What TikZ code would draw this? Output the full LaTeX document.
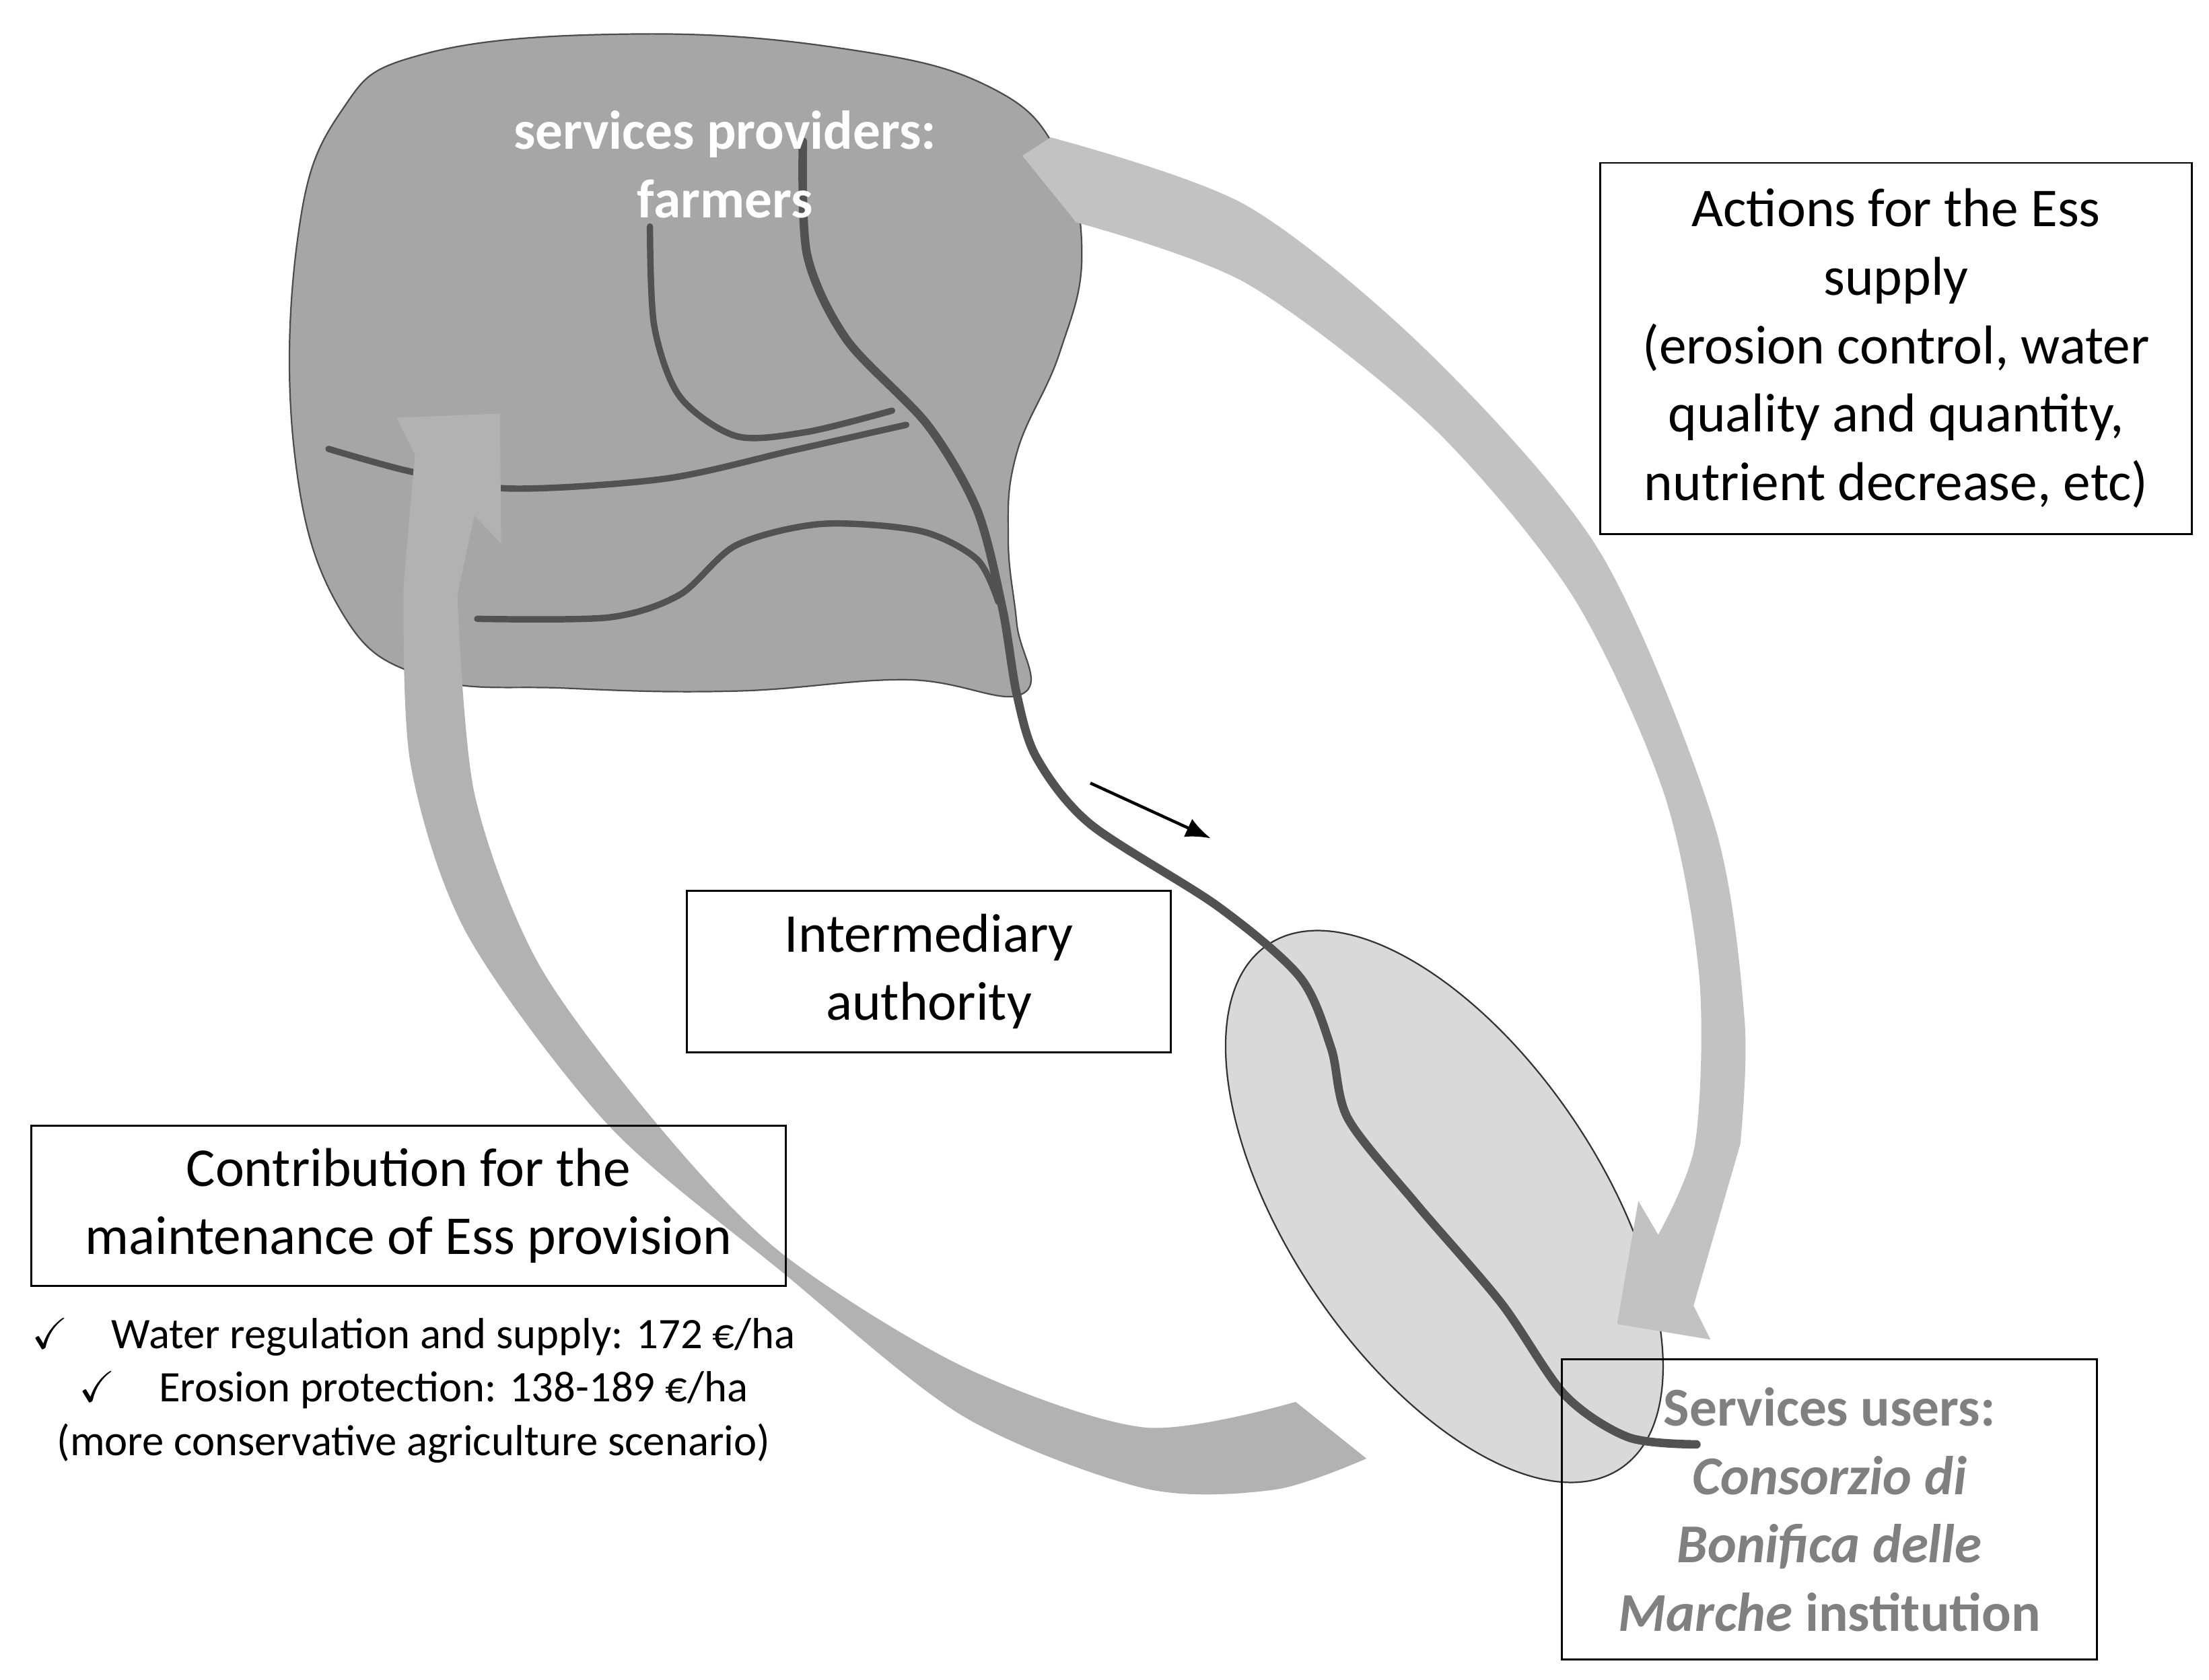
\documentclass[tikz,border=0pt]{standalone}
\usepackage{amssymb}
\usepackage{fontspec}
\setmainfont{Carlito}
\usetikzlibrary{shapes.geometric,arrows.meta}
\begin{document}
\begin{tikzpicture}[x=0.02cm,y=-0.02cm,
  river/.style={draw=black!68,line width=0.12cm,line cap=round,line join=round},
  branch/.style={draw=black!68,line width=0.09cm,line cap=round},
  box/.style={draw=black,line width=0.8pt,align=center,inner sep=0pt,font=\fontsize{22}{27.5}\selectfont}]
\useasboundingbox (0,0) rectangle (1560,1186.4);
% blob
\filldraw[fill=black!35,draw=black!70,line width=0.6pt] plot[smooth cycle,tension=0.7] coordinates
 {(300,38) (450,24) (600,35) (700,62) (748,110) (764,180) (748,250) (718,320) (712,380) (718,440) (722,490)
  (640,480) (520,488) (400,486) (300,478) (240,430) (208,320) (210,170) (240,80)};
% branches in blob
\draw[branch] plot[smooth] coordinates {(232,317) (290,333) (360,345) (470,338) (560,318) (640,300)};
\draw[branch] plot[smooth] coordinates {(459,160) (462,230) (480,280) (520,308) (570,305) (630,290)};
\draw[branch] plot[smooth] coordinates {(337,437) (430,436) (480,420) (520,385) (580,370) (650,375) (690,395) (705,425)};
% arrow 2
\fill[fill=black!30] plot[smooth] coordinates {(915,990) (808,1008) (680,965) (552,885) (465,795) (380,680) (335,560) (323,420)}
 -- (335,364) -- (354,384) -- (353,292) -- (280,295) -- (293,321) -- (285,413)
 -- plot[smooth] coordinates {(285,413) (290,540) (330,660) (430,795) (552,898) (680,1000) (808,1051) (900,1052) (965,1030)} -- cycle;
% ellipse
\node[draw=black!80,fill=black!15,line width=0.6pt,ellipse,minimum width=8.92cm,minimum height=4.4cm,rotate=-56,inner sep=0pt] (ell) at (1020,852) {};
% arrow 1
\fill[fill=black!24] (722,110) -- (742,97)
 -- plot[smooth] coordinates {(742,97) (880,145) (1010,250) (1130,390) (1210,580) (1232,720) (1229,808)}
 -- (1196,922) -- (1208,946) -- (1142,935) -- (1157,848) -- (1171,872)
 -- plot[smooth] coordinates {(1171,872) (1197,808) (1200,690) (1175,560) (1110,420) (1010,300) (880,200) (760,157)} -- cycle;
% main river
\draw[river] plot[smooth] coordinates {(567,100) (570,180) (598,240) (655,300) (690,360) (708,430) (718,490)
  (732,535) (770,582) (860,640) (918,690) (940,740) (952,790) (1000,850) (1060,920) (1105,985) (1150,1015) (1198,1020)};
% small arrow
\coordinate (sa1) at (770,553); \coordinate (sa2) at (855,592);
\draw[line width=1.2pt,-{Latex[length=10pt,width=8pt]}] (sa1) -- (sa2);
% boxes
\node[box,minimum width=8.36cm,minimum height=5.24cm] (act) at (1339,246)
 {Actions for the Ess\\supply\\(erosion control, water\\quality and quantity,\\nutrient decrease, etc)};
\node[box,fill=white,minimum width=6.84cm,minimum height=2.28cm] (int) at (656,686) {Intermediary\\authority};
\node[box,minimum width=10.66cm,minimum height=2.26cm] (con) at (288.5,851.5) {Contribution for the\\maintenance of Ess provision};
\node[box,minimum width=7.56cm,minimum height=4.24cm,text=black!50,font=\fontsize{22}{27.5}\selectfont\bfseries] (usr) at (1292,1066)
 {Services users:\\\textit{Consorzio di}\\\textit{Bonifica delle}\\\textit{Marche} institution};
\node[align=center,text=white,font=\fontsize{22}{27.5}\selectfont\bfseries] (prov) at (512,116) {services providers:\\farmers};
\node[align=center,font=\fontsize{17.5}{21.6}\selectfont] (list) at (292,982)
 {$\checkmark$\quad Water regulation and supply: 172 €/ha\\
  $\checkmark$\quad Erosion protection: 138-189 €/ha\\
  (more conservative agriculture scenario)};
\end{tikzpicture}
\end{document}
